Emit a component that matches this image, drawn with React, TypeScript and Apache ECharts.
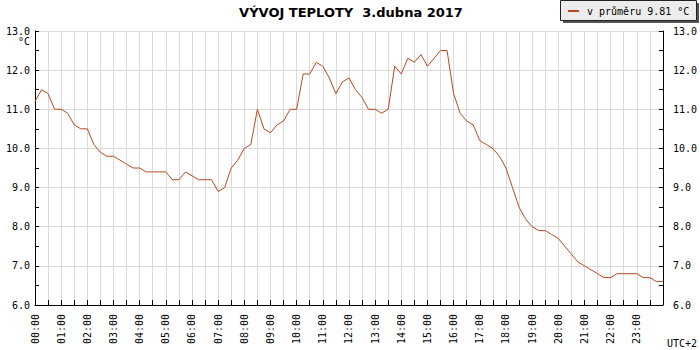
import React, { useEffect, useRef } from "react";
import * as echarts from "echarts";

// 15-minute samples from 00:00 to 24:00
const temps: number[] = [
  11.2, 11.5, 11.4, 11.0, 11.0, 10.9, 10.6, 10.5, 10.5, 10.1, 9.9, 9.8, 9.8, 9.7, 9.6, 9.5,
  9.5, 9.4, 9.4, 9.4, 9.4, 9.2, 9.2, 9.4, 9.3, 9.2, 9.2, 9.2, 8.9, 9.0, 9.5, 9.7,
  10.0, 10.1, 11.0, 10.5, 10.4, 10.6, 10.7, 11.0, 11.0, 11.9, 11.9, 12.2, 12.1, 11.8, 11.4, 11.7,
  11.8, 11.5, 11.3, 11.0, 11.0, 10.9, 11.0, 12.1, 11.9, 12.3, 12.2, 12.4, 12.1, 12.3, 12.5, 12.5,
  11.4, 10.9, 10.7, 10.6, 10.2, 10.1, 10.0, 9.8, 9.5, 9.0, 8.5, 8.2, 8.0, 7.9, 7.9, 7.8,
  7.7, 7.5, 7.3, 7.1, 7.0, 6.9, 6.8, 6.7, 6.7, 6.8, 6.8, 6.8, 6.8, 6.7, 6.7, 6.6, 6.6,
];
const stepMinutes = 15;

const hourLabels: string[] = [
  "00:00", "01:00", "02:00", "03:00", "04:00", "05:00", "06:00", "07:00",
  "08:00", "09:00", "10:00", "11:00", "12:00", "13:00", "14:00", "15:00",
  "16:00", "17:00", "18:00", "19:00", "20:00", "21:00", "22:00", "23:00",
];

const titleText = "VÝVOJ TEPLOTY  3.dubna 2017";
const legendText = "v průměru 9.81 °C";
const unitText = "°C";
const tzText = "UTC+2";

const LINE = "#b9491b";
const GRID = "#dadada";
const MONO = '"DejaVu Sans Mono", monospace';

export default function App() {
  const ref = useRef<HTMLDivElement>(null);
  useEffect(() => {
    if (!ref.current) return;
    const chart = echarts.init(ref.current, undefined, { renderer: "svg" });
    const data = temps.map((v, i) => [i * stepMinutes, v]);
    const yCommon = {
      type: "value",
      min: 6,
      max: 13,
      interval: 1,
      axisLine: { show: true, lineStyle: { color: "#000", width: 1 } },
      axisTick: { show: true, inside: true, length: 4, lineStyle: { color: "#000" } },
      minorTick: { show: true, splitNumber: 2, length: 4, lineStyle: { color: "#000" } },
      minorSplitLine: { show: false },
    };
    chart.setOption({
      animation: false,
      grid: { left: 35, right: 35, top: 31, bottom: 45, containLabel: false },
      xAxis: {
        type: "value",
        min: 0,
        max: 1440,
        interval: 30,
        axisLine: { show: true, lineStyle: { color: "#000", width: 1 } },
        axisTick: { show: true, inside: true, length: 5, lineStyle: { color: "#000" } },
        splitLine: { show: true, lineStyle: { color: GRID, width: 1 } },
        axisLabel: {
          rotate: 90,
          margin: 9,
          fontFamily: MONO,
          fontSize: 10,
          color: "#000",
          showMaxLabel: false,
          formatter: (v: number) =>
            v % 60 === 0 && v / 60 < hourLabels.length ? hourLabels[v / 60] : "",
        },
      },
      yAxis: [
        {
          ...yCommon,
          position: "left",
          splitLine: { show: true, lineStyle: { color: GRID, width: 1 } },
          axisLabel: {
            margin: 5,
            fontFamily: MONO,
            fontSize: 10,
            color: "#000",
            formatter: (v: number) => v.toFixed(1),
          },
        },
        {
          ...yCommon,
          position: "right",
          splitLine: { show: false },
          axisLabel: {
            margin: 10,
            fontFamily: MONO,
            fontSize: 10,
            color: "#000",
            formatter: (v: number) => v.toFixed(1),
          },
        },
      ],
      series: [
        {
          type: "line",
          data,
          showSymbol: false,
          symbol: "none",
          lineStyle: { color: LINE, width: 1 },
          itemStyle: { color: LINE },
          z: 3,
        },
      ],
      graphic: [
        {
          type: "text",
          x: 351,
          y: 12,
          style: {
            text: titleText,
            font: 'bold 13px "DejaVu Sans", sans-serif',
            fill: "#000",
            textAlign: "center",
            textVerticalAlign: "middle",
            align: "center",
            verticalAlign: "middle",
          },
        },
        {
          type: "rect",
          shape: { x: 563, y: 3, width: 136, height: 20 },
          style: { fill: "#555" },
        },
        {
          type: "rect",
          shape: { x: 560.5, y: 0.5, width: 136, height: 20 },
          style: { fill: "#ececec", stroke: "#222", lineWidth: 1 },
        },
        {
          type: "line",
          shape: { x1: 568, y1: 11, x2: 579, y2: 11 },
          style: { stroke: LINE, lineWidth: 2 },
        },
        {
          type: "text",
          x: 587,
          y: 11,
          style: {
            text: legendText,
            font: `10px ${MONO}`,
            fill: "#000",
            textAlign: "left",
            textVerticalAlign: "middle",
            align: "left",
            verticalAlign: "middle",
          },
        },
        {
          type: "text",
          x: 30,
          y: 41,
          style: {
            text: unitText,
            font: `10px ${MONO}`,
            fill: "#000",
            textAlign: "right",
            textVerticalAlign: "middle",
            align: "right",
            verticalAlign: "middle",
          },
        },
        {
          type: "text",
          x: 667,
          y: 343,
          style: {
            text: tzText,
            font: `10px ${MONO}`,
            fill: "#000",
            textAlign: "left",
            textVerticalAlign: "middle",
            align: "left",
            verticalAlign: "middle",
          },
        },
      ],
    });
    return () => chart.dispose();
  }, []);
  return (
    <div
      ref={ref}
      style={{ position: "fixed", left: 0, top: 0, width: 700, height: 350, background: "#fff" }}
    />
  );
}
